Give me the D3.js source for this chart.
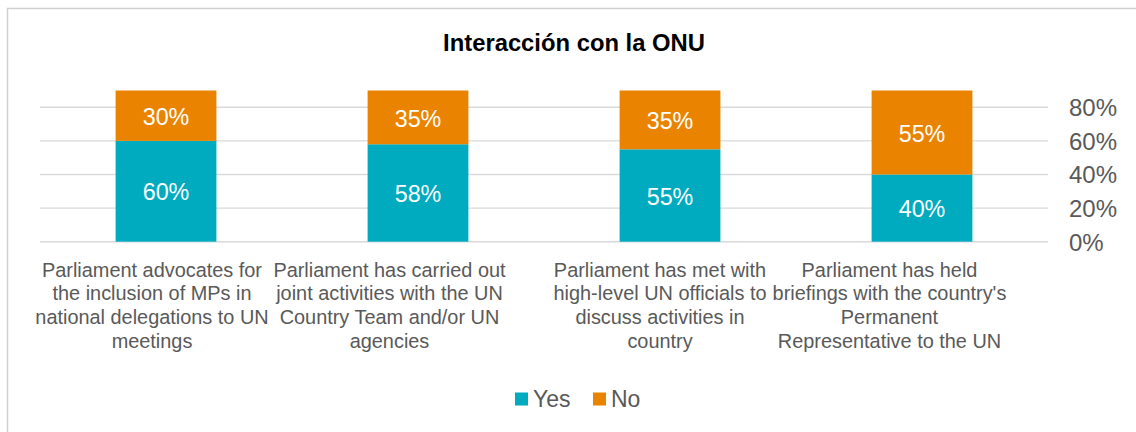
<!DOCTYPE html>
<html>
<head>
<meta charset="utf-8">
<script src="https://cdn.jsdelivr.net/npm/d3@7/dist/d3.min.js"></script>
<style>
  html, body { margin: 0; padding: 0; background: #fff; }
  svg { display: block; font-family: "Liberation Sans", Arial, sans-serif; }
</style>
</head>
<body>
<svg id="chart" width="1136" height="432"></svg>
<script>
const title = "Interacción con la ONU";
const categories = [
  "Parliament advocates for\nthe inclusion of MPs in\nnational delegations to UN\nmeetings",
  "Parliament has carried out\njoint activities with the UN\nCountry Team and/or UN\nagencies",
  "Parliament has met with\nhigh-level UN officials to\ndiscuss activities in\ncountry",
  "Parliament has held\nbriefings with the country's\nPermanent\nRepresentative to the UN"
];
const seriesNames = ["Yes", "No"];
const yesValues = [60, 58, 55, 40];
const noValues = [30, 35, 35, 55];
const tickValues = [0, 20, 40, 60, 80];
const colors = ["#00ABC0", "#EA8400"];

const labelDx = [-14, -28.5, -10, -32.5];

const svg = d3.select("#chart");
const W = 1136, H = 432;

// frame
svg.append("rect").attr("x", 7.5).attr("y", 8.5).attr("width", 1300).attr("height", 600)
  .attr("fill", "none").attr("stroke", "#d0d0d0").attr("stroke-width", 1.5);

// title
svg.append("text").attr("x", 574).attr("y", 51).attr("text-anchor", "middle")
  .attr("font-size", 23.8).attr("font-weight", "bold").attr("fill", "#000").text(title);

const x = d3.scaleBand().domain(categories).range([40, 1048]).paddingInner(0.6).paddingOuter(0.3);
const y = d3.scaleLinear().domain([0, 90]).range([241.7, 90.5]).clamp(true);

// gridlines
svg.append("g").selectAll("line").data(tickValues).join("line")
  .attr("x1", 40).attr("x2", 1048)
  .attr("y1", d => y(d)).attr("y2", d => y(d))
  .attr("stroke", "#d9d9d9").attr("stroke-width", 1.4);

// right axis
const axis = d3.axisRight(y).tickValues(tickValues).tickSize(0).tickPadding(0)
  .tickFormat(d => d + "%");
const ag = svg.append("g").attr("transform", "translate(1069,0)").call(axis);
ag.select(".domain").remove();
ag.selectAll("text").attr("font-size", 24).attr("fill", "#595959")
  .attr("font-family", "Liberation Sans, Arial, sans-serif").attr("dy", "0.35em").attr("x", 0);

// stacked data
const rows = categories.map((c, i) => ({ cat: c, Yes: yesValues[i], No: noValues[i] }));
const stack = d3.stack().keys(seriesNames)(rows);

const layers = svg.append("g").selectAll("g").data(stack).join("g")
  .attr("fill", (d, i) => colors[i]);
layers.selectAll("rect").data(d => d).join("rect")
  .attr("x", d => x(d.data.cat))
  .attr("width", x.bandwidth())
  .attr("y", d => y(d[1]))
  .attr("height", d => y(d[0]) - y(d[1]));

// data labels
const lab = svg.append("g");
stack.forEach(layer => {
  layer.forEach(d => {
    const top = y(d[1]), bot = y(d[0]);
    lab.append("text")
      .attr("x", x(d.data.cat) + x.bandwidth() / 2)
      .attr("y", (top + bot) / 2 + 1)
      .attr("dy", "0.35em")
      .attr("text-anchor", "middle")
      .attr("font-size", 23.3)
      .attr("fill", "#fff")
      .text(d.data[layer.key] + "%");
  });
});

// category labels
const cg = svg.append("g");
categories.forEach((c, i) => {
  const t = cg.append("text")
    .attr("x", x(c) + x.bandwidth() / 2 + labelDx[i])
    .attr("y", 276.5)
    .attr("text-anchor", "middle")
    .attr("font-size", 19.9)
    .attr("fill", "#595959");
  c.split("\n").forEach((line, j) => {
    t.append("tspan").attr("x", x(c) + x.bandwidth() / 2 + labelDx[i])
      .attr("dy", j === 0 ? 0 : 23.8).text(line);
  });
});

// legend
const legendX = [515, 593];
const lg = svg.append("g");
seriesNames.forEach((s, i) => {
  lg.append("rect").attr("x", legendX[i]).attr("y", 392.5).attr("width", 13).attr("height", 13)
    .attr("fill", colors[i]);
  lg.append("text").attr("x", legendX[i] + 18).attr("y", 406.5)
    .attr("font-size", 23).attr("fill", "#595959").text(s);
});
</script>
</body>
</html>
